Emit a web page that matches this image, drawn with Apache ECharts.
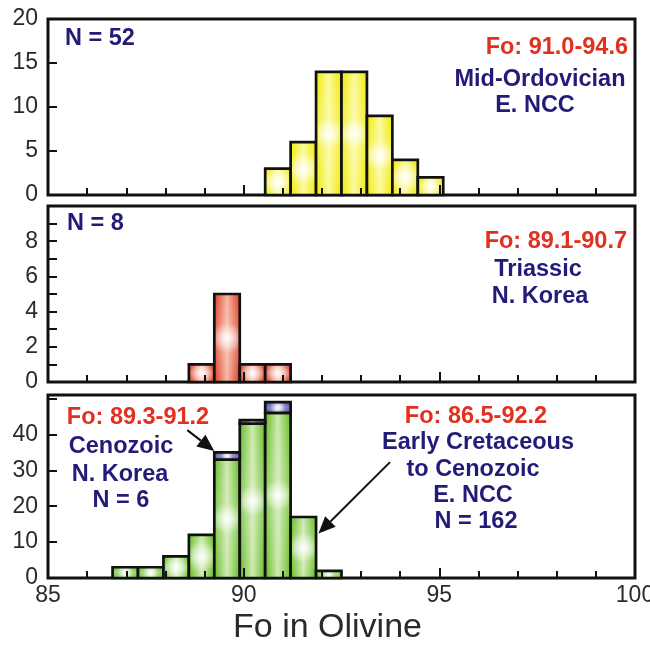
<!DOCTYPE html>
<html>
<head>
<meta charset="utf-8">
<script src="https://cdn.jsdelivr.net/npm/echarts@6/dist/echarts.min.js"></script>
<style>
  html, body { margin: 0; padding: 0; background: #fff; }
  #chart { width: 650px; height: 646px; }
</style>
</head>
<body>
<div id="chart"></div>
<script>
// histogram bin edges (Fo), shared by all three panels
const binEdges = [86.65, 87.3, 87.95, 88.6, 89.25, 89.9, 90.55, 91.2, 91.85, 92.5, 93.15, 93.8, 94.45, 95.1];

// counts per bin
const ordovicianCounts = [0, 0, 0, 0, 0, 0, 3, 6, 14, 14, 9, 4, 2];
const triassicCounts   = [0, 0, 0, 1, 5, 1, 1, 0, 0, 0, 0, 0, 0];
const cretaceousCounts = [3, 3, 6, 12, 33, 43, 46, 17, 2, 0, 0, 0, 0];
const cenozoicCounts   = [0, 0, 0, 0, 2, 1, 3, 0, 0, 0, 0, 0, 0];

const xTickLabels = [85, 90, 95, 100];

const FONT = '"Liberation Sans", Arial, Helvetica, sans-serif';
const NAVY = '#221c78';
const RED = '#e2301f';

// [lo, hi, base, top] rows for custom series
function binRows(counts, base) {
  const rows = [];
  counts.forEach((c, i) => {
    if (!c) return;
    const b = base ? base[i] : 0;
    rows.push([binEdges[i], binEdges[i + 1], b, b + c]);
  });
  return rows;
}

function histItem(edge, light) {
  return function (params, api) {
    const p0 = api.coord([api.value(0), api.value(2)]);
    const p1 = api.coord([api.value(1), api.value(3)]);
    const shape = { x: p0[0], y: p1[1], width: p1[0] - p0[0], height: p0[1] - p1[1] };
    return {
      type: 'group',
      children: [
        { type: 'rect', shape: shape, style: {
          fill: new echarts.graphic.LinearGradient(0, 0, 1, 0, [
            { offset: 0, color: edge }, { offset: 0.5, color: light }, { offset: 1, color: edge }
          ]) } },
        { type: 'rect', shape: shape, style: {
          fill: new echarts.graphic.LinearGradient(0, 0, 0, 1, [
            { offset: 0, color: 'rgba(255,255,255,0)' },
            { offset: 0.5, color: 'rgba(255,255,255,0.25)' },
            { offset: 1, color: 'rgba(255,255,255,0)' }
          ]) } },
        { type: 'rect', shape: shape, style: {
          fill: new echarts.graphic.RadialGradient(0.5, 0.5, 0.55, [
            { offset: 0, color: 'rgba(255,255,255,0.95)' },
            { offset: 1, color: 'rgba(255,255,255,0)' }
          ]),
          stroke: '#111', lineWidth: 2.7 } }
      ]
    };
  };
}

const grids = [
  { left: 48, right: 15, top: 19, height: 176 },
  { left: 48, right: 15, top: 206, height: 176 },
  { left: 48, right: 15, top: 395, height: 183 }
];

function xAxisFor(i, showLabels) {
  return {
    type: 'value', gridIndex: i, min: 85, max: 100, interval: 5, z: 5,
    axisLine: { show: false },
    splitLine: { show: false },
    axisTick: { show: true, inside: true, length: 10, lineStyle: { color: '#111', width: 2 } },
    minorTick: { show: true, splitNumber: 5, length: 7, lineStyle: { color: '#111', width: 2 } },
    axisLabel: {
      show: showLabels, margin: 6, fontSize: 23, fontFamily: FONT, color: '#2a2a2a',
      formatter: v => xTickLabels.indexOf(v) >= 0 ? String(v) : ''
    },
    name: showLabels ? 'Fo in Olivine' : '',
    nameLocation: 'middle', nameGap: 33,
    nameTextStyle: { fontSize: 34, fontFamily: FONT, color: '#2a2a2a', padding: [0, 28, 0, 0] }
  };
}

function yAxisFor(i, max, interval, fmt) {
  return {
    type: 'value', gridIndex: i, min: 0, max: max, interval: interval, z: 5,
    axisLine: { show: false },
    splitLine: { show: false },
    axisTick: { show: true, inside: true, length: 9, lineStyle: { color: '#111', width: 2 } },
    axisLabel: { margin: 10, fontSize: 23, fontFamily: FONT, color: '#2a2a2a', formatter: fmt }
  };
}

function label(text, x, y, color, align) {
  return {
    type: 'text', x: x, y: y, z: 10,
    style: { text: text, fill: color, font: 'bold 23.5px ' + FONT,
             textAlign: align || 'center', textVerticalAlign: 'middle' }
  };
}

const texts = [
  label('N = 52', 65, 39, NAVY, 'left'),
  label('Fo: 91.0-94.6', 628, 48, RED, 'right'),
  label('Mid-Ordovician', 540, 80, NAVY),
  label('E. NCC', 535, 106, NAVY),

  label('N = 8', 67, 224, NAVY, 'left'),
  label('Fo: 89.1-90.7', 627, 242, RED, 'right'),
  label('Triassic', 538, 270, NAVY),
  label('N. Korea', 540, 297, NAVY),

  label('Fo: 89.3-91.2', 138, 418, RED),
  label('Cenozoic', 121, 447, NAVY),
  label('N. Korea', 120, 475, NAVY),
  label('N = 6', 121, 501, NAVY),

  label('Fo: 86.5-92.2', 476, 417, RED),
  label('Early Cretaceous', 478, 443, NAVY),
  label('to Cenozoic', 473, 470, NAVY),
  label('E. NCC', 473, 496, NAVY),
  label('N = 162', 476, 522, NAVY)
];

const chart = echarts.init(document.getElementById('chart'), null, { renderer: 'canvas' });

chart.setOption({
  animation: false,
  backgroundColor: '#fff',
  grid: grids.map(g => Object.assign({
    show: true, borderColor: '#111', borderWidth: 3, backgroundColor: 'transparent',
    containLabel: false, outerBoundsMode: 'none'
  }, g)),
  xAxis: [xAxisFor(0, false), xAxisFor(1, false), xAxisFor(2, true)],
  yAxis: [
    yAxisFor(0, 20, 5, v => String(v)),
    yAxisFor(1, 10, 1, v => (v % 2 === 0 && v < 10) ? String(v) : ''),
    yAxisFor(2, 51, 10, v => v <= 40 ? String(v) : '')
  ],
  series: [
    { type: 'custom', xAxisIndex: 0, yAxisIndex: 0, renderItem: histItem('#f0ea00', '#fbfa9c'),
      data: binRows(ordovicianCounts), encode: { x: [0, 1], y: [2, 3] } },
    { type: 'custom', xAxisIndex: 1, yAxisIndex: 1, renderItem: histItem('#dc3c24', '#f5b8a4'),
      data: binRows(triassicCounts), encode: { x: [0, 1], y: [2, 3] } },
    { type: 'custom', xAxisIndex: 2, yAxisIndex: 2, renderItem: histItem('#64bc22', '#cdeab0'),
      data: binRows(cretaceousCounts), encode: { x: [0, 1], y: [2, 3] } },
    { type: 'custom', xAxisIndex: 2, yAxisIndex: 2, renderItem: histItem('#3e3a8e', '#aaaadc'),
      data: binRows(cenozoicCounts, cretaceousCounts), encode: { x: [0, 1], y: [2, 3] } }
  ]
});

// arrows in the bottom panel, given in data space (Fo, count)
const arrows = [
  { from: [88.56, 41.2], to: [89.25, 35.4] },
  { from: [93.74, 32.3], to: [91.91, 12.4] }
];

function arrowGraphics(a) {
  const p0 = chart.convertToPixel({ gridIndex: 2 }, a.from);
  const p1 = chart.convertToPixel({ gridIndex: 2 }, a.to);
  const dx = p1[0] - p0[0], dy = p1[1] - p0[1];
  const len = Math.sqrt(dx * dx + dy * dy);
  const ux = dx / len, uy = dy / len;
  const headLen = 17, headW = 7.5;
  const bx = p1[0] - ux * headLen, by = p1[1] - uy * headLen;
  return [
    { type: 'line', z: 10, shape: { x1: p0[0], y1: p0[1], x2: bx, y2: by },
      style: { stroke: '#111', lineWidth: 2 } },
    { type: 'polygon', z: 10, shape: { points: [
        [p1[0], p1[1]],
        [bx - uy * headW, by + ux * headW],
        [bx + uy * headW, by - ux * headW]
      ] }, style: { fill: '#111' } }
  ];
}

let arrowEls = [];
arrows.forEach(a => { arrowEls = arrowEls.concat(arrowGraphics(a)); });

chart.setOption({ graphic: texts.concat(arrowEls) });
</script>
</body>
</html>
